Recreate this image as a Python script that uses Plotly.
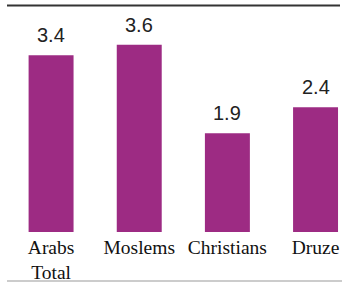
import plotly.graph_objects as go

categories = ["Arabs<br>Total", "Moslems", "Christians", "Druze"]
values = [3.4, 3.6, 1.9, 2.4]
value_labels = ["3.4", "3.6", "1.9", "2.4"]

bar_color = "#9D2B83"

fig = go.Figure()
fig.add_trace(go.Bar(
    x=categories, y=values, marker_color=bar_color, marker_line_width=0,
    width=0.51, hoverinfo="skip",
))

for c, v, t in zip(categories, values, value_labels):
    fig.add_annotation(x=c, y=v, text=t, showarrow=False, yanchor="bottom",
                       yshift=7, font=dict(family="Liberation Sans, Arial, sans-serif",
                                           size=20, color="#222222"))

H_PLOT = 232
fig.update_layout(
    width=342, height=282,
    margin=dict(l=7, r=0, t=0, b=50),
    paper_bgcolor="white", plot_bgcolor="white",
    showlegend=False,
    xaxis=dict(range=[-0.5, 3.3], showgrid=False, zeroline=False, showline=False,
               ticks="", tickfont=dict(family="Liberation Serif, Times New Roman, serif",
                                      size=19.5, color="#111111"),
               ticklabelstandoff=1),
    yaxis=dict(range=[0, 232 / 52], visible=False, showgrid=False, zeroline=False),
    shapes=[
        dict(type="line", xref="paper", yref="paper", x0=0, x1=333 / 335,
             y0=1 - 5.5 / H_PLOT, y1=1 - 5.5 / H_PLOT,
             line=dict(color="#333333", width=2)),
        dict(type="line", xref="paper", yref="paper", x0=0, x1=1,
             y0=-(281 - H_PLOT) / H_PLOT, y1=-(281 - H_PLOT) / H_PLOT,
             line=dict(color="#BBBBBB", width=1.5)),
    ],
)

fig.write_html("out.html", config={"displayModeBar": False},
               post_script="document.body.style.margin='0';document.body.style.overflow='hidden';")
